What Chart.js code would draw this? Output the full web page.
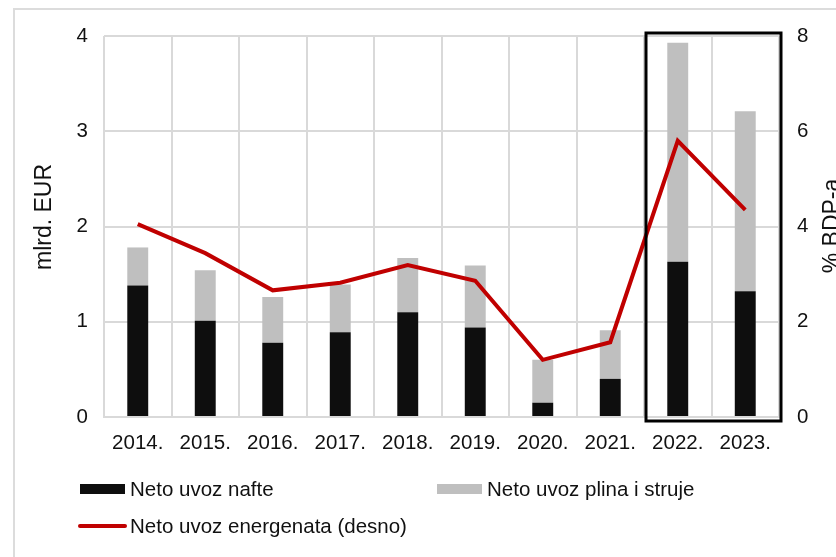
<!DOCTYPE html>
<html>
<head>
<meta charset="utf-8">
<script src="https://cdn.jsdelivr.net/npm/chart.js@4.4.1/dist/chart.umd.min.js"></script>
<style>
  html, body { margin: 0; padding: 0; background: #fff; }
  #frame { position: absolute; left: 13px; top: 8px; width: 900px; height: 700px; border: 2px solid #dcdcdc; }
  #wrap { position: absolute; left: 0; top: 0; width: 836px; height: 557px; }
</style>
</head>
<body>
<div id="frame"></div>
<div id="wrap"><canvas id="chart" width="836" height="557"></canvas></div>
<script>
const years = ['2014.', '2015.', '2016.', '2017.', '2018.', '2019.', '2020.', '2021.', '2022.', '2023.'];
const oilImports = [1.38, 1.01, 0.78, 0.89, 1.10, 0.94, 0.15, 0.40, 1.63, 1.32];
const gasPowerImports = [0.40, 0.53, 0.48, 0.50, 0.57, 0.65, 0.45, 0.51, 2.30, 1.89];
const energyPctGdp = [4.05, 3.44, 2.66, 2.82, 3.19, 2.86, 1.20, 1.57, 5.80, 4.35];
const leftTicks = [0, 1, 2, 3, 4];
const rightTicks = [0, 2, 4, 6, 8];
const highlightFrom = '2022.';
const highlightTo = '2023.';

const FONT = "'Liberation Sans', Arial, sans-serif";
const GRID = '#d9d9d9';

// rotated axis titles, both read bottom to top
const axisTitles = {
  id: 'axisTitles',
  afterDraw(chart) {
    const { ctx } = chart;
    ctx.save();
    ctx.fillStyle = '#111';
    ctx.font = '23px ' + FONT;
    ctx.textAlign = 'center';
    ctx.textBaseline = 'middle';
    [[45, 217, 'mlrd. EUR'], [833, 226, '% BDP-a']].forEach(([x, y, t]) => {
      ctx.save();
      ctx.translate(x, y);
      ctx.rotate(-Math.PI / 2);
      ctx.fillText(t, 0, 0);
      ctx.restore();
    });
    ctx.restore();
  }
};

// black box around the last two years
const highlightBox = {
  id: 'highlightBox',
  afterDatasetsDraw(chart) {
    const { ctx, chartArea, scales } = chart;
    const x = scales.x;
    const half = (x.getPixelForValue(1) - x.getPixelForValue(0)) / 2;
    const i0 = years.indexOf(highlightFrom), i1 = years.indexOf(highlightTo);
    const left = x.getPixelForValue(i0) - half + 2;
    const right = x.getPixelForValue(i1) + half + 2;
    ctx.save();
    ctx.strokeStyle = '#000';
    ctx.lineWidth = 3;
    ctx.strokeRect(left, chartArea.top - 3, right - left, chartArea.bottom - chartArea.top + 7);
    ctx.restore();
  }
};

// two column legend under the chart
const gridLegend = {
  id: 'gridLegend',
  afterDraw(chart) {
    const { ctx } = chart;
    const ds = chart.data.datasets;
    const slots = [[80, 489], [437, 489], [80, 526]];
    ctx.save();
    ctx.font = '20.5px ' + FONT;
    ctx.textBaseline = 'middle';
    ds.forEach((d, i) => {
      const [x, y] = slots[i];
      if (d.type === 'line') {
        ctx.strokeStyle = d.borderColor;
        ctx.lineWidth = 4;
        ctx.lineCap = 'round';
        ctx.beginPath();
        ctx.moveTo(x, y);
        ctx.lineTo(x + 45, y);
        ctx.stroke();
      } else {
        ctx.fillStyle = d.backgroundColor;
        ctx.fillRect(x, y - 5, 45, 10);
      }
      ctx.fillStyle = '#111';
      ctx.fillText(d.label, x + 50, y + 1);
    });
    ctx.restore();
  }
};

const ctx = document.getElementById('chart').getContext('2d');
new Chart(ctx, {
  data: {
    labels: years,
    datasets: [
      {
        type: 'bar',
        label: 'Neto uvoz nafte',
        data: oilImports,
        backgroundColor: '#0e0e0e',
        yAxisID: 'y',
        stack: 's',
        order: 1,
        barPercentage: 0.62,
        categoryPercentage: 0.5
      },
      {
        type: 'bar',
        label: 'Neto uvoz plina i struje',
        data: gasPowerImports,
        backgroundColor: '#bfbfbf',
        yAxisID: 'y',
        stack: 's',
        order: 1,
        barPercentage: 0.62,
        categoryPercentage: 0.5
      },
      {
        type: 'line',
        label: 'Neto uvoz energenata (desno)',
        data: energyPctGdp,
        borderColor: '#c00000',
        borderWidth: 4,
        pointRadius: 0,
        tension: 0,
        yAxisID: 'y1',
        order: 0
      }
    ]
  },
  options: {
    responsive: false,
    animation: false,
    layout: { padding: { top: 36, bottom: 100, left: 0, right: 0 } },
    plugins: {
      legend: { display: false },
      tooltip: { enabled: false }
    },
    scales: {
      x: {
        stacked: true,
        grid: { color: GRID, lineWidth: 2, drawTicks: false, offset: true },
        border: { color: GRID, width: 2 },
        ticks: { color: '#111', font: { size: 20.5, family: FONT }, padding: 14, maxRotation: 0, autoSkip: false },
        afterFit: s => { s.height = 40; }
      },
      y: {
        position: 'left',
        stacked: true,
        min: 0, max: 4,
        afterBuildTicks: s => { s.ticks = leftTicks.map(v => ({ value: v })); },
        grid: { color: GRID, lineWidth: 2, drawTicks: false },
        border: { display: false },
        ticks: { color: '#111', font: { size: 20.5, family: FONT }, padding: 16 },
        afterFit: s => { s.width = 104; }
      },
      y1: {
        position: 'right',
        min: 0, max: 8,
        afterBuildTicks: s => { s.ticks = rightTicks.map(v => ({ value: v })); },
        grid: { display: false, drawTicks: false },
        border: { display: false },
        ticks: { color: '#111', font: { size: 20.5, family: FONT }, padding: 18 },
        afterFit: s => { s.width = 57; }
      }
    }
  },
  plugins: [axisTitles, highlightBox, gridLegend]
});
</script>
</body>
</html>
